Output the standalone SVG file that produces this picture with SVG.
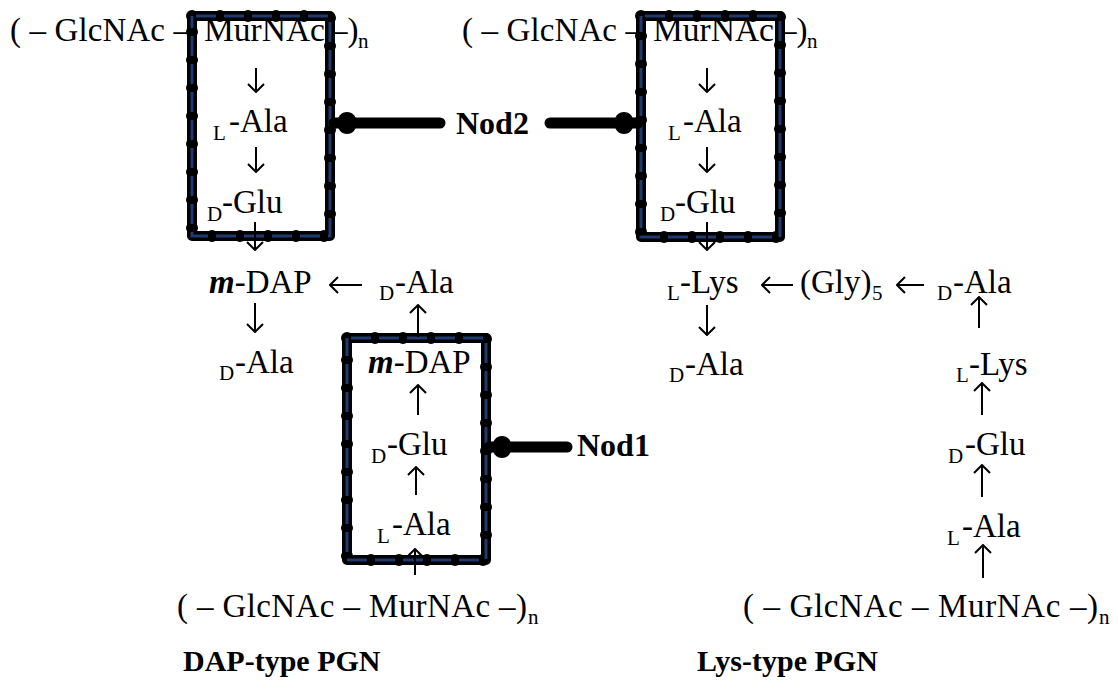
<svg xmlns="http://www.w3.org/2000/svg" width="1118" height="689" viewBox="0 0 1118 689" font-family="'Liberation Serif', 'Times New Roman', 'DejaVu Serif', serif">
<style>
text{font-family:'Liberation Serif','Times New Roman','DejaVu Serif',serif;font-size:33px;fill:#000}
text.s{font-size:21px}
text.b{font-weight:bold;font-size:32px}
tspan.bi{font-weight:bold;font-style:italic}
text.lbl{font-size:30px;font-weight:bold}
.arr{stroke:#000;stroke-width:2;fill:none;marker-end:url(#ah)}
.bk{fill:none;stroke:#000;stroke-width:10;stroke-linejoin:round}
.bd{fill:none;stroke:#000;stroke-width:12;stroke-dasharray:0 28;stroke-linecap:round}
.bb{fill:none;stroke:#1f3a6e;stroke-width:3;stroke-dasharray:20 8;stroke-dashoffset:-4}
.nod{stroke:#000;stroke-width:11;stroke-linecap:round;fill:none}
</style>
<defs>
<marker id="ah" viewBox="0 0 10 18" refX="9" refY="9" markerWidth="10" markerHeight="18" markerUnits="userSpaceOnUse" orient="auto">
<path d="M1,1 L9,9 L1,17" fill="none" stroke="#000" stroke-width="2"/>
</marker>
</defs>
<rect width="1118" height="689" fill="#fff"/>

<g id="dap-top-chain">
<text x="10" y="41" textLength="180" lengthAdjust="spacing">( – GlcNAc –</text>
<text x="204" y="41" textLength="121" lengthAdjust="spacingAndGlyphs">MurNAc</text>
<text x="331" y="41">–)</text>
<text class="s" x="358" y="48">n</text>
</g>
<g id="dap-lala-1"><text class="s" x="213" y="140">L</text><text x="229" y="132">-Ala</text></g>
<g id="dap-dglu-1"><text class="s" x="207" y="221">D</text><text x="222" y="213">-Glu</text></g>
<g id="dap-mdap-1"><text x="209" y="293"><tspan class="bi">m</tspan>-DAP</text></g>
<g id="dap-dala-1"><text class="s" x="219" y="380">D</text><text x="235" y="373">-Ala</text></g>
<g id="dap-dala-2"><text class="s" x="379" y="300">D</text><text x="395" y="293">-Ala</text></g>
<g id="dap-mdap-2"><text x="368" y="373"><tspan class="bi">m</tspan>-DAP</text></g>
<g id="dap-dglu-2"><text class="s" x="371" y="463">D</text><text x="387" y="455">-Glu</text></g>
<g id="dap-lala-2"><text class="s" x="377" y="543">L</text><text x="392" y="535">-Ala</text></g>
<g id="dap-bottom-chain">
<text x="177" y="617" textLength="350" lengthAdjust="spacing">( – GlcNAc – MurNAc –)</text>
<text class="s" x="528" y="624">n</text>
</g>
<g id="dap-label"><text class="lbl" x="183" y="671">DAP-type PGN</text></g>

<g id="lys-top-chain">
<text x="462" y="41" textLength="180" lengthAdjust="spacing">( – GlcNAc –</text>
<text x="653" y="41" textLength="121" lengthAdjust="spacingAndGlyphs">MurNAc</text>
<text x="780" y="41">–)</text>
<text class="s" x="807" y="48">n</text>
</g>
<g id="lys-lala-1"><text class="s" x="668" y="140">L</text><text x="683" y="132">-Ala</text></g>
<g id="lys-dglu-1"><text class="s" x="660" y="221">D</text><text x="675" y="213">-Glu</text></g>
<g id="lys-llys-1"><text class="s" x="667" y="300">L</text><text x="680" y="293">-Lys</text></g>
<g id="lys-gly5"><text x="800" y="293">(Gly)</text><text class="s" x="872" y="300">5</text></g>
<g id="lys-dala-2"><text class="s" x="937" y="300">D</text><text x="953" y="293">-Ala</text></g>
<g id="lys-dala-1"><text class="s" x="669" y="382">D</text><text x="685" y="375">-Ala</text></g>
<g id="lys-llys-2"><text class="s" x="956" y="382">L</text><text x="969" y="375">-Lys</text></g>
<g id="lys-dglu-2"><text class="s" x="948" y="463">D</text><text x="965" y="455">-Glu</text></g>
<g id="lys-lala-2"><text class="s" x="947" y="545">L</text><text x="962" y="537">-Ala</text></g>
<g id="lys-bottom-chain">
<text x="743" y="617" textLength="355" lengthAdjust="spacing">( – GlcNAc – MurNAc –)</text>
<text class="s" x="1099" y="624">n</text>
</g>
<g id="lys-label"><text class="lbl" x="697" y="671">Lys-type PGN</text></g>

<g id="box-nod2-dap">
<rect class="bk" x="192" y="16" width="138" height="220"/>
<rect class="bd" x="192" y="16" width="138" height="220"/>
<rect class="bb" x="192" y="16" width="138" height="220"/>
</g>
<g id="box-nod2-lys">
<rect class="bk" x="641" y="16" width="139" height="221"/>
<rect class="bd" x="641" y="16" width="139" height="221"/>
<rect class="bb" x="641" y="16" width="139" height="221"/>
</g>
<g id="box-nod1">
<rect class="bk" x="347" y="338" width="139" height="222"/>
<rect class="bd" x="347" y="338" width="139" height="222"/>
<rect class="bb" x="347" y="338" width="139" height="222"/>
</g>

<g id="nod2"><text class="b" x="456" y="134">Nod2</text></g>
<g id="nod1"><text class="b" x="577" y="456">Nod1</text></g>

<g id="connectors">
<path class="arr" d="M256,68 V92"/>
<path class="arr" d="M256,147 V172"/>
<path class="arr" d="M255,222 V250"/>
<path class="arr" d="M255,303 V332"/>
<path class="arr" d="M362,285 H330"/>
<path class="arr" d="M418,337 V305"/>
<path class="arr" d="M418,415 V385"/>
<path class="arr" d="M416,495 V467"/>
<path class="arr" d="M415,575 V549"/>
<path class="arr" d="M707,68 V92"/>
<path class="arr" d="M707,147 V172"/>
<path class="arr" d="M707,222 V250"/>
<path class="arr" d="M707,305 V335"/>
<path class="arr" d="M793,285 H762"/>
<path class="arr" d="M924,285 H897"/>
<path class="arr" d="M979,328 V297"/>
<path class="arr" d="M982,415 V383"/>
<path class="arr" d="M982,497 V465"/>
<path class="arr" d="M983,578 V545"/>
<path class="nod" d="M440,123 H334"/>
<ellipse cx="347" cy="123" rx="10" ry="11"/>
<path class="nod" d="M550,123 H638"/>
<ellipse cx="624" cy="123" rx="10" ry="11"/>
<path class="nod" d="M567,447 H489"/>
<ellipse cx="502" cy="447" rx="10" ry="11"/>
</g>
</svg>
